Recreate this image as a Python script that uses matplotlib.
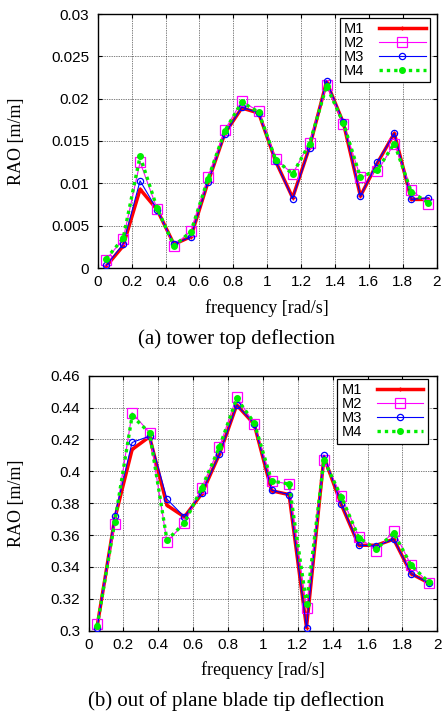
import matplotlib
matplotlib.use("Agg")
import matplotlib.pyplot as plt
import numpy as np

freq = [0.05, 0.15, 0.25, 0.35, 0.45, 0.55, 0.65, 0.75, 0.85, 0.95,
        1.05, 1.15, 1.25, 1.35, 1.45, 1.55, 1.65, 1.75, 1.85, 1.95]

# (a) tower top deflection
tower_m1 = [0.0002, 0.0026, 0.0093, 0.0069, 0.0028, 0.0037, 0.0101, 0.0159, 0.0189, 0.0183,
            0.0126, 0.0083, 0.0143, 0.0220, 0.0171, 0.0085, 0.0124, 0.0159, 0.0081, 0.0081]
tower_m2 = [0.0010, 0.0034, 0.0125, 0.0070, 0.0026, 0.0044, 0.0107, 0.0163, 0.0197, 0.0185,
            0.0129, 0.0111, 0.0148, 0.0216, 0.0170, 0.0107, 0.0114, 0.0147, 0.0092, 0.0076]
tower_m3 = [0.0003, 0.0028, 0.0103, 0.0069, 0.0028, 0.0037, 0.0101, 0.0158, 0.0190, 0.0183,
            0.0126, 0.0082, 0.0142, 0.0221, 0.0172, 0.0085, 0.0125, 0.0159, 0.0081, 0.0083]
tower_m4 = [0.0011, 0.0035, 0.0132, 0.0071, 0.0026, 0.0043, 0.0105, 0.0162, 0.0196, 0.0184,
            0.0128, 0.0111, 0.0147, 0.0215, 0.0171, 0.0107, 0.0116, 0.0147, 0.0090, 0.0077]

# (b) out of plane blade tip deflection
blade_m1 = [0.303, 0.370, 0.4137, 0.4217, 0.3787, 0.3714, 0.3860, 0.4106, 0.4416, 0.4296,
            0.3878, 0.3854, 0.302, 0.4090, 0.3790, 0.3536, 0.3536, 0.3574, 0.3358, 0.3300]
blade_m2 = [0.304, 0.3668, 0.4368, 0.4242, 0.3557, 0.3676, 0.3898, 0.4150, 0.4468, 0.4296,
            0.3940, 0.3920, 0.314, 0.4074, 0.3844, 0.3588, 0.3500, 0.3626, 0.3410, 0.3300]
blade_m3 = [0.302, 0.3718, 0.4181, 0.4221, 0.3825, 0.3714, 0.3865, 0.4106, 0.4416, 0.4300,
            0.3882, 0.3854, 0.302, 0.4102, 0.3794, 0.3536, 0.3532, 0.3574, 0.3358, 0.3300]
blade_m4 = [0.303, 0.3679, 0.4347, 0.4242, 0.3568, 0.3676, 0.3898, 0.4150, 0.4458, 0.4305,
            0.3940, 0.3920, 0.317, 0.4070, 0.3840, 0.3584, 0.3511, 0.3614, 0.3410, 0.3306]

labels = ["M1", "M2", "M3", "M4"]
xticks = [0, 0.2, 0.4, 0.6, 0.8, 1, 1.2, 1.4, 1.6, 1.8, 2]
xticklabels = ["0", "0.2", "0.4", "0.6", "0.8", "1", "1.2", "1.4", "1.6", "1.8", "2"]
yticks_a = [0, 0.005, 0.01, 0.015, 0.02, 0.025, 0.03]
yticklabels_a = ["0", "0.005", "0.01", "0.015", "0.02", "0.025", "0.03"]
yticks_b = [0.3, 0.32, 0.34, 0.36, 0.38, 0.4, 0.42, 0.44, 0.46]
yticklabels_b = ["0.3", "0.32", "0.34", "0.36", "0.38", "0.4", "0.42", "0.44", "0.46"]

sans = "Liberation Sans"
serif = "Liberation Serif"
W, H = 444.0, 717.0

fig = plt.figure(figsize=(4.44, 7.17), dpi=100)
ax1 = fig.add_axes([97.7 / W, 1 - 268 / H, 339 / W, 254 / H])
ax2 = fig.add_axes([88.5 / W, 1 - 630.7 / H, 348.8 / W, 255 / H])


def draw(ax, m1, m2, m3, m4, yticks, yticklabels, ylim, ylab_y, xlab_y, leg_anchor):
    ax.plot(freq, m1, color="#ff0000", lw=2.5, marker="+", ms=3, label=labels[0], zorder=3)
    ax.plot(freq, m2, color="#ff00ff", lw=0.8, marker="s", ms=6.5, mfc="none",
            mec="#ff00ff", mew=0.9, label=labels[1], zorder=4)
    ax.plot(freq, m3, color="#0000ff", lw=0.8, marker="o", ms=4.5, mfc="none",
            mec="#0000ff", mew=0.9, label=labels[2], zorder=5)
    ax.plot(freq, m4, color="#00ee00", lw=2.4, ls=(0, (1, 1.2)), marker="o", ms=4,
            mfc="#00ee00", mec="#00ee00", label=labels[3], zorder=6)
    ax.set_xlim(0, 2)
    ax.set_ylim(*ylim)
    ax.set_xticks(xticks)
    ax.set_xticklabels(xticklabels, fontfamily=sans, fontsize=11)
    ax.set_yticks(yticks)
    ax.set_yticklabels(yticklabels, fontfamily=sans, fontsize=11)
    ax.tick_params(direction="in", length=3, width=0.8, top=True, right=True)
    ax.tick_params(axis="x", pad=5)
    ax.tick_params(axis="y", pad=6)
    ax.grid(True, color="black", ls=(0, (1, 1.5)), lw=0.5)
    for s in ax.spines.values():
        s.set_linewidth(1.0)
    ax.set_ylabel("RAO [m/m]", fontfamily=serif, fontsize=13, va="center")
    ax.yaxis.set_label_coords(17 / W, ylab_y, transform=fig.transFigure)
    ax.set_xlabel("frequency [rad/s]", fontfamily=serif, fontsize=13, va="center")
    ax.xaxis.set_label_coords(0.5, xlab_y)
    ax.xaxis.label.set_transform(
        matplotlib.transforms.blended_transform_factory(ax.transAxes, fig.transFigure))
    ax.xaxis.label.set_position((0.5, xlab_y))
    leg = ax.legend(loc="upper right", bbox_to_anchor=leg_anchor,
                    prop={"family": sans, "size": 10.5},
                    fancybox=False, framealpha=1, edgecolor="black",
                    handlelength=3.2, handletextpad=1.0, borderpad=0.3,
                    labelspacing=0.0, markerfirst=False, borderaxespad=0.0)
    leg.get_frame().set_linewidth(0.9)


draw(ax1, tower_m1, tower_m2, tower_m3, tower_m4, yticks_a, yticklabels_a, (0, 0.03),
     1 - 141 / H, 1 - 308 / H, (0.980, 0.9854))
draw(ax2, blade_m1, blade_m2, blade_m3, blade_m4, yticks_b, yticklabels_b, (0.3, 0.46),
     1 - 503 / H, 1 - 670 / H, (0.9725, 0.987))

fig.text(236 / W, 1 - 339 / H, "(a) tower top deflection", ha="center", va="center",
         fontfamily=serif, fontsize=15)
fig.text(236 / W, 1 - 701 / H, "(b) out of plane blade tip deflection", ha="center",
         va="center", fontfamily=serif, fontsize=15)

fig.savefig("out.png", dpi=100)
